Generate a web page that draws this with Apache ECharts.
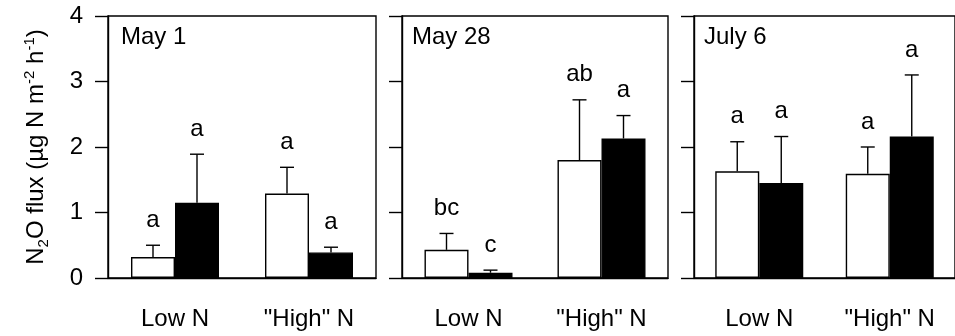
<!DOCTYPE html>
<html><head><meta charset="utf-8">
<script src="https://cdn.jsdelivr.net/npm/echarts@6/dist/echarts.min.js"></script>
<style>html,body{margin:0;padding:0;background:#fff}#c{width:955px;height:336px}</style>
</head><body><div id="c"></div>
<script>
const categories = ['Low N', '"High" N'];
const panelTitles = ['May 1', 'May 28', 'July 6'];
const yTicks = [0, 1, 2, 3, 4];
// open (white) bars and solid (black) bars, per panel [Low N, "High" N]
const openMean = [[0.32, 1.29], [0.43, 1.80], [1.63, 1.59]];
const openSE   = [[0.18, 0.40], [0.25, 0.92], [0.45, 0.41]];
const solidMean = [[1.15, 0.39], [0.08, 2.13], [1.45, 2.16]];
const solidSE   = [[0.74, 0.08], [0.04, 0.35], [0.71, 0.94]];
const openLetters  = [['a', 'a'], ['bc', 'ab'], ['a', 'a']];
const solidLetters = [['a', 'a'], ['c', 'a'], ['a', 'a']];

const FONT = '"Liberation Sans", Arial, sans-serif';
const FS = 24;
const BW = 44;
const grids = [
  {left: 108, top: 16, width: 268, height: 262},
  {left: 402, top: 16, width: 266, height: 262},
  {left: 694, top: 16, width: 268, height: 262}
];

const chart = echarts.init(document.getElementById('c'));
const option = {
  animation: false,
  backgroundColor: '#fff',
  grid: grids.map(g => Object.assign({show: true, borderColor: '#000', borderWidth: 1.4, backgroundColor: 'transparent'}, g)),
  title: panelTitles.map((t, i) => ({
    text: t, left: grids[i].left + (i === 0 ? 13 : 10), top: 25, padding: 0,
    textStyle: {fontFamily: FONT, fontSize: FS, fontWeight: 'normal', color: '#000'}
  })),
  xAxis: panelTitles.map((t, i) => ({
    type: 'category', gridIndex: i, data: categories,
    axisLine: {lineStyle: {color: '#000', width: 1.4}},
    axisTick: {alignWithLabel: true, length: 14, lineStyle: {color: '#000', width: 1.4}},
    axisLabel: {margin: 29, fontFamily: FONT, fontSize: FS, color: '#000'}
  })),
  yAxis: panelTitles.map((t, i) => ({
    type: 'value', gridIndex: i, min: yTicks[0], max: yTicks[yTicks.length - 1], interval: 1,
    splitLine: {show: false},
    axisLine: {show: true, lineStyle: {color: '#000', width: 1.4}},
    axisTick: {show: true, length: 13, lineStyle: {color: '#000', width: 1.4}},
    axisLabel: {show: i === 0, margin: 25, fontFamily: FONT, fontSize: FS, color: '#000'},
    name: i === 0 ? '{n|N}{s|2}{n|O flux (µg N m}{p|-2}{n| h}{p|-1}{n|)}' : '',
    nameLocation: 'middle', nameRotate: 90, nameGap: 56,
    nameTextStyle: {
      fontFamily: FONT, fontSize: FS, color: '#000', lineHeight: 32,
      rich: {
        n: {fontFamily: FONT, fontSize: FS, color: '#000', lineHeight: 32},
        s: {fontFamily: FONT, fontSize: 15, color: '#000', lineHeight: 32, padding: [15, 0, 0, 0]},
        p: {fontFamily: FONT, fontSize: 15, color: '#000', lineHeight: 32, padding: [0, 0, 13, 0]}
      }
    }
  })),
  series: []
};

function errSeries(i, means, ses, letters, sign) {
  return {
    type: 'custom', xAxisIndex: i, yAxisIndex: i, z: 5,
    data: means[i].map((m, k) => [k, m, m + ses[i][k]]),
    renderItem: function (params, api) {
      const k = api.value(0);
      const base = api.coord([k, api.value(1)]);
      const top = api.coord([k, api.value(2)]);
      const x = base[0] + sign * BW / 2;
      return {
        type: 'group',
        children: [
          {type: 'line', shape: {x1: x, y1: base[1], x2: x, y2: top[1]}, style: {stroke: '#000', lineWidth: 1.4}},
          {type: 'line', shape: {x1: x - 7, y1: top[1], x2: x + 7, y2: top[1]}, style: {stroke: '#000', lineWidth: 1.4}},
          {type: 'text', style: {text: letters[i][params.dataIndex], x: x, y: top[1] - 13,
            textAlign: 'center', textVerticalAlign: 'bottom', font: FS + 'px ' + FONT, fill: '#000'}}
        ]
      };
    }
  };
}

for (let i = 0; i < 3; i++) {
  option.series.push({
    type: 'bar', xAxisIndex: i, yAxisIndex: i, barWidth: BW, barGap: '0%', z: 3,
    data: openMean[i], itemStyle: {color: '#fff', borderColor: '#000', borderWidth: 1.4}
  });
  option.series.push({
    type: 'bar', xAxisIndex: i, yAxisIndex: i, barWidth: BW, barGap: '0%', z: 3,
    data: solidMean[i], itemStyle: {color: '#000', borderColor: '#000', borderWidth: 1.4}
  });
  option.series.push(errSeries(i, openMean, openSE, openLetters, -1));
  option.series.push(errSeries(i, solidMean, solidSE, solidLetters, 1));
}
chart.setOption(option);
</script></body></html>
